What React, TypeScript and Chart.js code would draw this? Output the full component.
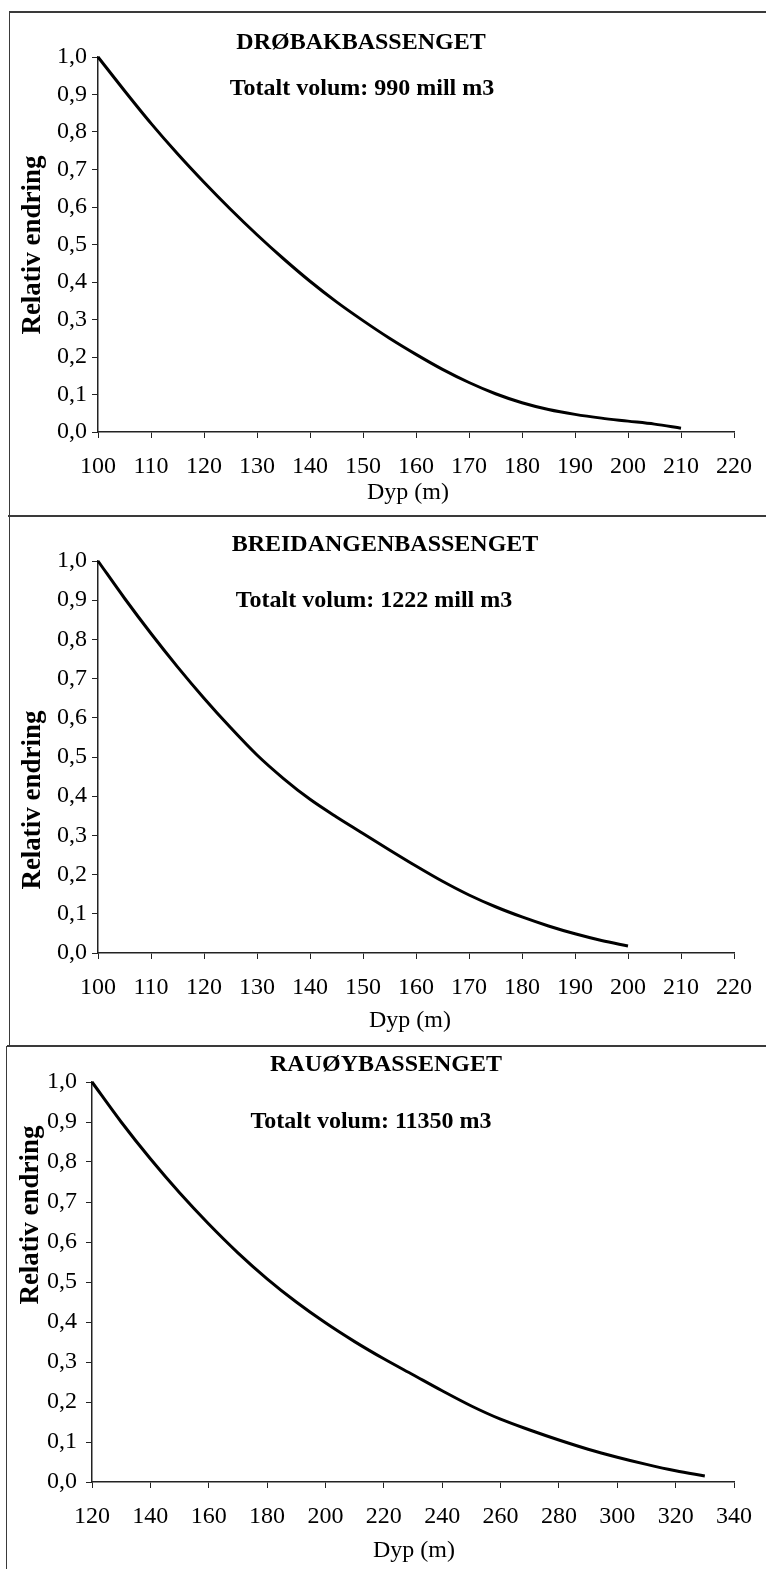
import React, { useEffect, useRef } from 'react';
import { Chart, registerables } from 'chart.js';
Chart.register(...registerables);

const FONT = "'Liberation Serif', 'Times New Roman', serif";

// Drøbakbassenget
const drobakDepth = [100, 105, 110, 115, 120, 125, 130, 135, 140, 145, 150, 155, 160, 165, 170, 175, 180, 185, 190, 195, 200, 205, 210];
const drobakRel = [1.0, 0.91, 0.823, 0.742, 0.666, 0.594, 0.526, 0.462, 0.402, 0.347, 0.297, 0.25, 0.207, 0.167, 0.132, 0.102, 0.078, 0.06, 0.047, 0.037, 0.029, 0.021, 0.01];

// Breidangenbassenget
const breidDepth = [100, 105, 110, 115, 120, 125, 130, 135, 140, 145, 150, 155, 160, 165, 170, 175, 180, 185, 190, 195, 200];
const breidRel = [1.0, 0.905, 0.815, 0.73, 0.65, 0.575, 0.505, 0.445, 0.392, 0.347, 0.305, 0.263, 0.222, 0.183, 0.148, 0.118, 0.092, 0.069, 0.049, 0.032, 0.018];

// Rauøybassenget
const rauoyDepth = [120, 130, 140, 150, 160, 170, 180, 190, 200, 210, 220, 230, 240, 250, 260, 270, 280, 290, 300, 310, 320, 330];
const rauoyRel = [1.0, 0.9, 0.808, 0.723, 0.645, 0.573, 0.508, 0.45, 0.398, 0.351, 0.308, 0.268, 0.228, 0.19, 0.157, 0.13, 0.105, 0.082, 0.062, 0.044, 0.028, 0.015];

const titles = ['DRØBAKBASSENGET', 'BREIDANGENBASSENGET', 'RAUØYBASSENGET'];
const subtitles = ['Totalt volum: 990 mill m3', 'Totalt volum: 1222 mill m3', 'Totalt volum: 11350 m3'];
const xAxisTitle = 'Dyp (m)';
const yAxisTitle = 'Relativ endring';

type Panel = {
  top: number;
  height: number;
  plot: { left: number; right: number; top: number; bottom: number };
  xMin: number;
  xMax: number;
  xStep: number;
  depth: number[];
  values: number[];
  title: string;
  subtitle: string;
  titlePos: [number, number];
  subtitlePos: [number, number];
  xTitlePos: [number, number];
  yTitlePos: [number, number];
  yPad: number;
};

const panels: Panel[] = [
  {
    top: 13, height: 502,
    plot: { left: 98, right: 745, top: 57, bottom: 432 },
    xMin: 100, xMax: 220, xStep: 10,
    depth: drobakDepth, values: drobakRel,
    title: titles[0], subtitle: subtitles[0],
    titlePos: [361, 43], subtitlePos: [362, 89],
    xTitlePos: [408, 493], yTitlePos: [33, 245],
    yPad: 5,
  },
  {
    top: 518, height: 527,
    plot: { left: 98, right: 740, top: 561, bottom: 953 },
    xMin: 100, xMax: 220, xStep: 10,
    depth: breidDepth, values: breidRel,
    title: titles[1], subtitle: subtitles[1],
    titlePos: [385, 545], subtitlePos: [374, 601],
    xTitlePos: [410, 1021], yTitlePos: [33, 800],
    yPad: 5,
  },
  {
    top: 1048, height: 521,
    plot: { left: 92, right: 740, top: 1082, bottom: 1482 },
    xMin: 120, xMax: 340, xStep: 20,
    depth: rauoyDepth, values: rauoyRel,
    title: titles[2], subtitle: subtitles[2],
    titlePos: [386, 1065], subtitlePos: [371, 1122],
    xTitlePos: [414, 1551], yTitlePos: [31, 1215],
    yPad: 9,
  },
];

function PanelChart({ p }: { p: Panel }) {
  const ref = useRef<HTMLCanvasElement | null>(null);
  useEffect(() => {
    if (!ref.current) return;
    const textPlugin = {
      id: 'panelText',
      afterDraw(chart: any) {
        const ctx = chart.ctx;
        ctx.save();
        ctx.fillStyle = '#000';
        ctx.textAlign = 'center';
        ctx.textBaseline = 'middle';
        ctx.font = `bold 24px ${FONT}`;
        ctx.fillText(p.title, p.titlePos[0], p.titlePos[1] - p.top);
        ctx.fillText(p.subtitle, p.subtitlePos[0], p.subtitlePos[1] - p.top);
        ctx.font = `24px ${FONT}`;
        ctx.fillText(xAxisTitle, p.xTitlePos[0], p.xTitlePos[1] - p.top);
        ctx.translate(p.yTitlePos[0], p.yTitlePos[1] - p.top);
        ctx.rotate(-Math.PI / 2);
        ctx.font = `bold 27px ${FONT}`;
        ctx.fillText(yAxisTitle, 0, 0);
        ctx.restore();
      },
    };
    const xAxisHeight = p.top + p.height - p.plot.bottom;
    const chart = new Chart(ref.current, {
      type: 'line',
      data: {
        datasets: [
          {
            data: p.depth.map((d, i) => ({ x: d, y: p.values[i] })),
            borderColor: '#000',
            borderWidth: 3,
            pointRadius: 0,
            cubicInterpolationMode: 'monotone',
            fill: false,
            clip: false as any,
          },
        ],
      },
      options: {
        responsive: false,
        animation: false,
        devicePixelRatio: 1,
        layout: {
          padding: { left: 0, right: 766 - p.plot.right, top: p.plot.top - p.top, bottom: 0 },
        },
        plugins: {
          legend: { display: false },
          tooltip: { enabled: false },
        },
        scales: {
          x: {
            type: 'linear',
            min: p.xMin,
            max: p.xMax,
            ticks: {
              stepSize: p.xStep,
              autoSkip: false,
              maxRotation: 0,
              color: '#000',
              padding: 14,
              font: { family: FONT, size: 24 },
              callback: (v: any) => String(v),
            },
            grid: { drawOnChartArea: false, drawTicks: true, tickLength: 6, color: '#222', lineWidth: 1 },
            border: { color: '#222', width: 1.5 },
            afterFit: (s: any) => { s.height = xAxisHeight; },
          },
          y: {
            type: 'linear',
            min: 0,
            max: 1,
            ticks: {
              stepSize: 0.1,
              autoSkip: false,
              color: '#000',
              padding: p.yPad,
              font: { family: FONT, size: 24 },
              callback: (v: any) => Number(v).toFixed(1).replace('.', ','),
            },
            grid: { drawOnChartArea: false, drawTicks: true, tickLength: 6, color: '#222', lineWidth: 1 },
            border: { color: '#222', width: 1.5 },
            afterFit: (s: any) => { s.width = p.plot.left; },
          },
        },
      } as any,
      plugins: [textPlugin],
    });
    return () => chart.destroy();
  }, [p]);
  return (
    <canvas
      ref={ref}
      width={766}
      height={p.height}
      style={{ position: 'absolute', left: 0, top: p.top, width: 766, height: p.height }}
    />
  );
}

export default function App() {
  const line = (style: React.CSSProperties) => (
    <div style={{ position: 'absolute', background: '#3a3a3a', ...style }} />
  );
  return (
    <div style={{ position: 'absolute', left: 0, top: 0, width: 766, height: 1569, background: '#fff', overflow: 'hidden' }}>
      {panels.map((p, i) => (
        <PanelChart key={i} p={p} />
      ))}
      {line({ left: 9, top: 11, width: 757, height: 2 })}
      {line({ left: 8, top: 515, width: 758, height: 2 })}
      {line({ left: 7, top: 1045, width: 759, height: 2 })}
      {line({ left: 9, top: 11, width: 1, height: 1035 })}
      {line({ left: 6, top: 1046, width: 1, height: 523 })}
    </div>
  );
}
